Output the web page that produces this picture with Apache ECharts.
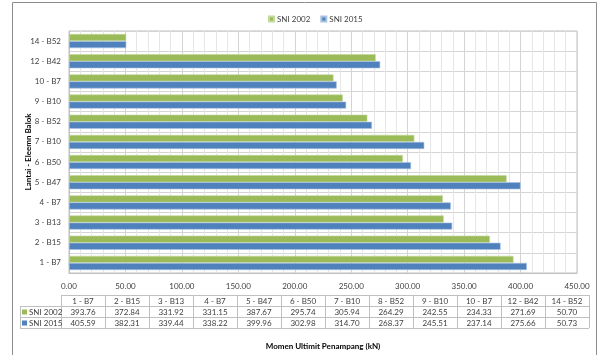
<!DOCTYPE html>
<html>
<head>
<meta charset="utf-8">
<script src="https://cdn.jsdelivr.net/npm/echarts@6/dist/echarts.min.js"></script>
<style>
  html, body { margin: 0; padding: 0; background: #fff; }
  #chart { width: 599px; height: 355px; }
</style>
</head>
<body>
<div id="chart"></div>
<script>
// Beam elements, floor - element id (bottom to top on the chart)
const categories = ['1 - B7', '2 - B15', '3 - B13', '4 - B7', '5 - B47', '6 - B50',
                    '7 - B10', '8 - B52', '9 - B10', '10 - B7', '12 - B42', '14 - B52'];
const seriesNames = ['SNI 2002', 'SNI 2015'];
const sni2002 = [393.76, 372.84, 331.92, 331.15, 387.67, 295.74, 305.94, 264.29, 242.55, 234.33, 271.69, 50.70];
const sni2015 = [405.59, 382.31, 339.44, 338.22, 399.96, 302.98, 314.70, 268.37, 245.51, 237.14, 275.66, 50.73];
const colors = ['#9BBB59', '#4F81BD'];
const xMin = 0, xMax = 450, xStep = 50;

const FONT = 'Lato, "Liberation Sans", sans-serif';
const TEXT = '#404040';
const GRIDC = '#d4d4d4';

// Data table under the plot
const tbl = { left: 20, colStart: 61, right: 589, top: 295, rowH: 11 };
const colW = (tbl.right - tbl.colStart) / categories.length;
const rows = [sni2002, sni2015];
const graphics = [];
const lineStyle = { stroke: '#c0c0c0', lineWidth: 1 };

// outer frame
graphics.push({ type: 'rect', shape: { x: 12.5, y: 2.5, width: 584, height: 380 },
  style: { fill: 'none', stroke: '#8c8c8c', lineWidth: 1 }, silent: true });

// horizontal rules
graphics.push({ type: 'line', shape: { x1: tbl.colStart, y1: tbl.top + 0.5, x2: tbl.right, y2: tbl.top + 0.5 }, style: lineStyle });
for (let r = 1; r <= rows.length + 1; r++) {
  const y = tbl.top + r * tbl.rowH + 0.5;
  graphics.push({ type: 'line', shape: { x1: tbl.left, y1: y, x2: tbl.right, y2: y }, style: lineStyle });
}
// vertical rules
graphics.push({ type: 'line', shape: { x1: tbl.left + 0.5, y1: tbl.top + tbl.rowH, x2: tbl.left + 0.5, y2: tbl.top + 3 * tbl.rowH }, style: lineStyle });
for (let c = 0; c <= categories.length; c++) {
  const x = Math.round(tbl.colStart + c * colW) + 0.5;
  graphics.push({ type: 'line', shape: { x1: x, y1: tbl.top, x2: x, y2: tbl.top + 3 * tbl.rowH }, style: lineStyle });
}
// header and values
categories.forEach((cat, c) => {
  const cx = tbl.colStart + (c + 0.5) * colW;
  graphics.push({ type: 'text', x: cx, y: tbl.top + tbl.rowH / 2 + 0.5,
    style: { text: cat, font: '8px ' + FONT, fill: TEXT, align: 'center', verticalAlign: 'middle' } });
  rows.forEach((vals, r) => {
    graphics.push({ type: 'text', x: cx, y: tbl.top + (r + 1.5) * tbl.rowH + 0.5,
      style: { text: vals[c].toFixed(2), font: '8px ' + FONT, fill: TEXT, align: 'center', verticalAlign: 'middle' } });
  });
});
seriesNames.forEach((name, r) => {
  const cy = tbl.top + (r + 1.5) * tbl.rowH + 0.5;
  graphics.push({ type: 'rect', shape: { x: 22, y: cy - 2.5, width: 5, height: 5 }, style: { fill: colors[r] } });
  graphics.push({ type: 'text', x: 29, y: cy,
    style: { text: name, font: '8px ' + FONT, fill: TEXT, align: 'left', verticalAlign: 'middle' } });
});

const chart = echarts.init(document.getElementById('chart'), null, { renderer: 'canvas' });
chart.setOption({
  animation: false,
  backgroundColor: '#fff',
  textStyle: { fontFamily: FONT },
  color: colors,
  legend: {
    top: 10, left: 263,
    itemWidth: 5, itemHeight: 5, itemGap: 10,
    icon: 'rect',
    textStyle: { fontSize: 8, color: TEXT, fontFamily: FONT, padding: [0, 0, 0, -2] },
    data: seriesNames
  },
  grid: { left: 69, right: 22, top: 31, bottom: 82, show: true, borderColor: '#c0c0c0', borderWidth: 1 },
  xAxis: {
    type: 'value', min: xMin, max: xMax, interval: xStep,
    name: 'Momen Ultimit Penampang (kN)', nameLocation: 'middle', nameGap: 69,
    nameMoveOverlap: false,
    nameTextStyle: { fontSize: 8, fontWeight: 'bold', color: '#000', fontFamily: FONT },
    axisLine: { show: true, lineStyle: { color: '#c0c0c0' } },
    axisTick: { show: false },
    axisLabel: { fontSize: 8, color: TEXT, margin: 9, formatter: v => v.toFixed(2) },
    splitLine: { show: true, lineStyle: { color: GRIDC } },
    minorTick: { show: false, splitNumber: 5 },
    minorSplitLine: { show: true, lineStyle: { color: '#e6e6e6' } }
  },
  yAxis: {
    type: 'category', data: categories,
    name: 'Lantai - Eleemn Balok', nameLocation: 'middle', nameGap: 37,
    nameMoveOverlap: false,
    nameTextStyle: { fontSize: 8, fontWeight: 'bold', color: '#000', fontFamily: FONT },
    axisLine: { show: true, lineStyle: { color: '#c0c0c0' } },
    axisTick: { show: false },
    axisLabel: { fontSize: 8, color: TEXT, margin: 8 },
    splitLine: { show: true, lineStyle: { color: GRIDC } }
  },
  series: [
    { name: seriesNames[0], type: 'bar', data: sni2002, barGap: '0%', barCategoryGap: '30%',
      itemStyle: { color: colors[0], borderColor: '#c4d99f', borderWidth: 0.6 } },
    { name: seriesNames[1], type: 'bar', data: sni2015, barGap: '0%', barCategoryGap: '30%',
      itemStyle: { color: colors[1], borderColor: '#a9c1e0', borderWidth: 0.6 } }
  ],
  graphic: graphics
});
</script>
</body>
</html>
